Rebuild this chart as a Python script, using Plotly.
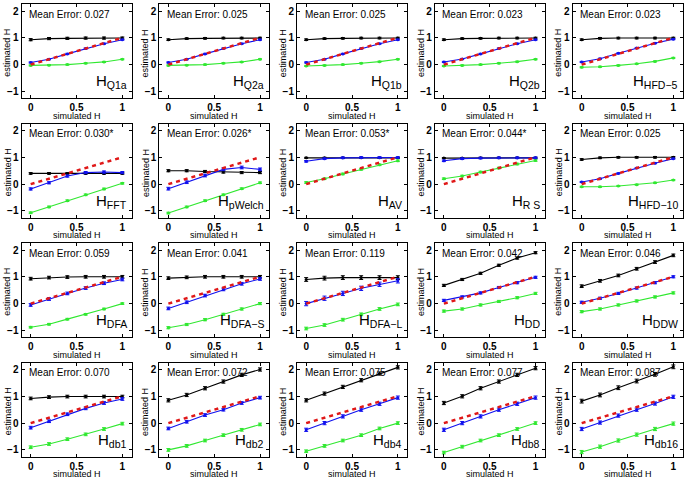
import plotly.graph_objects as go

x_sim = [0.0, 0.2, 0.4, 0.6, 0.8, 1.0]
ideal_x = [0.0, 1.0]
ideal_y = [0.0, 1.0]

methods = ["Q1a", "Q2a", "Q1b", "Q2b", "HFD\u22125",
           "FFT", "pWelch", "AV", "R S", "HFD\u221210",
           "DFA", "DFA\u2212S", "DFA\u2212L", "DD", "DDW",
           "db1", "db2", "db4", "db8", "db16"]
mean_errors = ["0.027", "0.025", "0.025", "0.023", "0.023",
               "0.030*", "0.026*", "0.053*", "0.044*", "0.025",
               "0.059", "0.041", "0.119", "0.042", "0.046",
               "0.070", "0.072", "0.075", "0.077", "0.087"]

black_vals = [
    [0.93, 0.97, 0.98, 0.99, 0.99, 0.99],
    [0.93, 0.97, 0.98, 0.99, 0.99, 0.99],
    [0.93, 0.97, 0.98, 0.99, 0.99, 0.99],
    [0.93, 0.97, 0.98, 0.99, 0.99, 0.99],
    [0.93, 0.98, 0.99, 0.99, 0.99, 0.99],
    [0.40, 0.40, 0.40, 0.40, 0.40, 0.40],
    [0.50, 0.50, 0.47, 0.45, 0.43, 0.43],
    [0.98, 0.98, 0.98, 0.98, 0.98, 0.98],
    [0.97, 0.97, 0.98, 0.98, 0.98, 0.98],
    [0.92, 0.98, 1.00, 1.00, 1.00, 1.00],
    [0.93, 0.97, 0.99, 1.00, 1.00, 1.00],
    [0.95, 0.98, 1.00, 1.00, 1.00, 1.00],
    [0.90, 0.95, 0.97, 0.97, 0.97, 0.97],
    [0.68, 0.90, 1.13, 1.43, 1.70, 1.90],
    [0.65, 0.85, 1.05, 1.30, 1.55, 1.80],
    [0.92, 0.97, 0.99, 0.99, 0.99, 0.99],
    [0.85, 1.05, 1.30, 1.55, 1.80, 2.00],
    [0.85, 1.10, 1.35, 1.60, 1.85, 2.08],
    [0.75, 1.00, 1.30, 1.55, 1.80, 2.05],
    [0.82, 1.05, 1.32, 1.57, 1.82, 2.10],
]
blue_vals = [
    [0.08, 0.20, 0.40, 0.60, 0.78, 0.93],
    [0.08, 0.20, 0.40, 0.60, 0.78, 0.93],
    [0.08, 0.20, 0.40, 0.60, 0.78, 0.93],
    [0.10, 0.21, 0.40, 0.60, 0.78, 0.93],
    [0.10, 0.22, 0.42, 0.62, 0.80, 0.95],
    [-0.18, 0.05, 0.30, 0.43, 0.45, 0.43],
    [-0.17, 0.07, 0.32, 0.55, 0.62, 0.55],
    [0.85, 0.95, 0.98, 0.99, 0.99, 0.99],
    [0.87, 0.95, 0.97, 0.98, 0.98, 0.98],
    [0.08, 0.20, 0.40, 0.60, 0.78, 0.95],
    [-0.05, 0.17, 0.38, 0.58, 0.76, 0.90],
    [-0.18, 0.05, 0.30, 0.53, 0.74, 0.92],
    [0.00, 0.20, 0.38, 0.57, 0.72, 0.85],
    [0.12, 0.25, 0.40, 0.60, 0.78, 0.98],
    [0.05, 0.20, 0.38, 0.58, 0.78, 1.00],
    [-0.17, 0.07, 0.33, 0.55, 0.75, 0.90],
    [-0.20, 0.05, 0.30, 0.50, 0.75, 0.95],
    [-0.25, 0.00, 0.25, 0.50, 0.72, 0.95],
    [-0.25, 0.00, 0.25, 0.50, 0.72, 0.95],
    [-0.22, 0.02, 0.28, 0.50, 0.73, 0.98],
]
green_vals = [
    [-0.03, -0.02, 0.00, 0.05, 0.10, 0.20],
    [-0.03, -0.02, 0.00, 0.05, 0.10, 0.20],
    [-0.05, -0.03, 0.00, 0.05, 0.11, 0.20],
    [-0.05, -0.03, 0.00, 0.05, 0.11, 0.20],
    [-0.10, -0.08, -0.03, 0.03, 0.12, 0.25],
    [-1.07, -0.85, -0.62, -0.40, -0.18, 0.03],
    [-1.08, -0.85, -0.62, -0.40, -0.17, 0.05],
    [0.06, 0.20, 0.38, 0.55, 0.72, 0.87],
    [0.20, 0.30, 0.45, 0.60, 0.75, 0.88],
    [-0.10, -0.10, -0.07, -0.02, 0.05, 0.15],
    [-0.88, -0.77, -0.58, -0.40, -0.20, 0.00],
    [-0.90, -0.78, -0.60, -0.40, -0.20, 0.00],
    [-0.93, -0.80, -0.60, -0.40, -0.20, -0.03],
    [-0.28, -0.20, -0.05, 0.08, 0.22, 0.38],
    [-0.30, -0.20, -0.05, 0.10, 0.25, 0.40],
    [-0.90, -0.78, -0.60, -0.42, -0.22, -0.02],
    [-1.00, -0.85, -0.65, -0.45, -0.25, -0.05],
    [-1.05, -0.85, -0.65, -0.45, -0.20, 0.00],
    [-1.10, -0.88, -0.65, -0.45, -0.22, 0.00],
    [-1.08, -0.88, -0.65, -0.43, -0.22, -0.02],
]
# error-bar half widths per panel (black, blue, green)
err_black = [0.04, 0.03, 0.03, 0.03, 0.03, 0.03, 0.04, 0.02, 0.02, 0.03,
             0.05, 0.05, 0.07, 0.04, 0.05, 0.05, 0.06, 0.06, 0.06, 0.07]
err_blue = [0.02, 0.02, 0.02, 0.02, 0.02, 0.04, 0.05, 0.03, 0.03, 0.02,
            0.05, 0.05, 0.08, 0.04, 0.04, 0.05, 0.05, 0.06, 0.06, 0.06]
err_green = [0.02, 0.02, 0.02, 0.02, 0.02, 0.03, 0.03, 0.03, 0.03, 0.02,
             0.03, 0.04, 0.05, 0.04, 0.04, 0.05, 0.05, 0.05, 0.05, 0.06]

W, H = 686, 479
col_left = [21.5, 159.2, 297.0, 434.7, 572.5]   # px
row_top = [4.3, 123.8, 243.3, 362.8]            # px
pw, ph = 110.0, 93.8


def px(xp):
    return xp / W


def py(yp):
    return 1 - yp / H


fig = go.Figure()
font_fam = "Liberation Sans, Arial, sans-serif"

for i in range(20):
    r, c = divmod(i, 5)
    n = "" if i == 0 else str(i + 1)
    xa, ya = "x" + n, "y" + n

    def series(vals, err, color):
        fig.add_trace(go.Scatter(
            x=x_sim, y=vals, mode="lines+markers", xaxis=xa, yaxis=ya,
            line=dict(color=color, width=1.1), marker=dict(size=3, color=color),
            error_y=dict(type="constant", value=err, color=color, thickness=1, width=2),
            showlegend=False, hoverinfo="skip"))
    series(black_vals[i], err_black[i], "black")
    series(green_vals[i], err_green[i], "#30e830")
    series(blue_vals[i], err_blue[i], "#1010ee")
    fig.add_trace(go.Scatter(
        x=ideal_x, y=ideal_y, mode="lines", xaxis=xa, yaxis=ya,
        line=dict(color="#e01818", width=2.5, dash="4px,4px"),
        showlegend=False, hoverinfo="skip"))

    left, top = col_left[c], row_top[r]
    axcommon = dict(showline=True, linecolor="black", linewidth=1, mirror="allticks",
                    ticks="inside", ticklen=3, tickcolor="black", showgrid=False,
                    zeroline=False,
                    tickfont=dict(family=font_fam, size=10, color="black", weight="bold"))
    fig.layout["xaxis" + n] = dict(
        domain=[px(left), px(left + pw)], range=[-0.1, 1.1], anchor=ya,
        tickvals=[0, 0.5, 1], ticktext=["0", "0.5", "1"], **axcommon)
    fig.layout["yaxis" + n] = dict(
        domain=[py(top + ph), py(top)], range=[-1.25, 2.25], anchor=xa,
        tickvals=[-1, 0, 1, 2], **axcommon)

    fig.add_annotation(xref="paper", yref="paper", x=px(left + pw / 2), y=py(top + ph + 17.5),
                       xanchor="center", yanchor="middle", text="simulated H", showarrow=False,
                       font=dict(family=font_fam, size=9, color="black"))
    fig.add_annotation(xref="paper", yref="paper", x=px(left - 14), y=py(top + ph / 2 + 2),
                       xanchor="center", yanchor="middle", text="estimated H", textangle=-90,
                       showarrow=False, font=dict(family=font_fam, size=9, color="black"))
    fig.add_annotation(xref=xa, yref=ya, x=-0.04, y=1.88, xanchor="left", yanchor="middle",
                       text="Mean Error: " + mean_errors[i], showarrow=False,
                       font=dict(family=font_fam, size=10, color="black"))
    fig.add_annotation(xref=xa, yref=ya, x=1.07, y=-0.64, xanchor="right", yanchor="middle",
                       text="H<sub>" + methods[i] + "</sub>", showarrow=False,
                       font=dict(family=font_fam, size=15, color="black"))

fig.update_layout(width=W, height=H, margin=dict(l=0, r=0, t=0, b=0),
                  plot_bgcolor="white", paper_bgcolor="white")
fig.write_html("out.html", config={"displayModeBar": False},
               post_script="document.body.style.margin='0px';")
